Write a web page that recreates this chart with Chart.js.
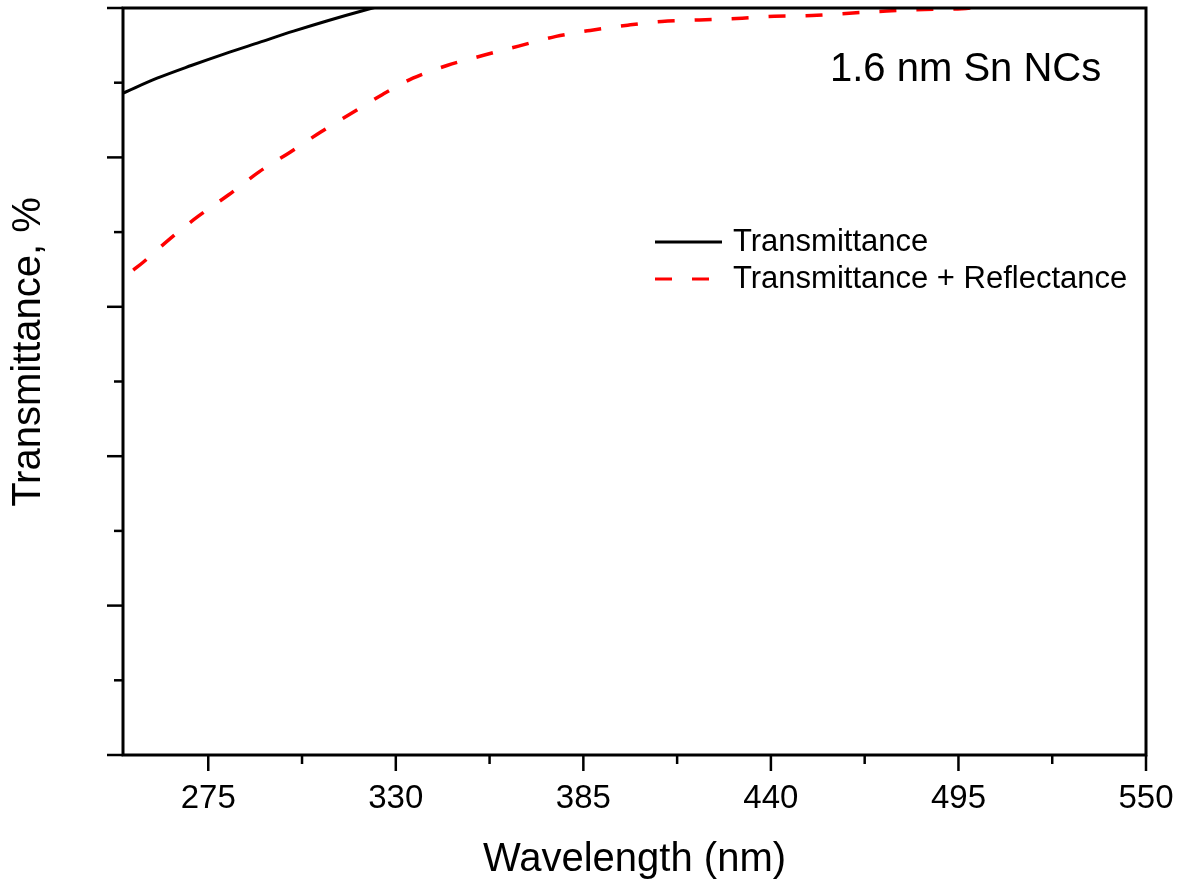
<!DOCTYPE html>
<html>
<head>
<meta charset="utf-8">
<script src="https://cdn.jsdelivr.net/npm/chart.js@4.4.1/dist/chart.umd.min.js"></script>
<style>
  html, body { margin: 0; padding: 0; background: #fff; }
  #wrap { width: 1181px; height: 884px; }
</style>
</head>
<body>
<div id="wrap"><canvas id="chart" width="1181" height="884"></canvas></div>
<script>
// wavelength (nm) and transmittance (%)
const transX = [250, 260, 270, 280, 290, 300, 310, 320, 330, 340];
const transY = [88.6, 90.6, 92.3, 93.9, 95.4, 96.9, 98.3, 99.6, 100.8, 101.9];

const trX = [253, 256, 264, 272, 281, 290, 299, 308, 317, 326, 335, 345, 356, 366, 377, 387, 398, 408, 419, 430, 441, 452, 463, 474, 485, 496, 505, 520];
const trY = [64.9, 66.0, 69.2, 72.1, 75.0, 78.1, 80.7, 83.4, 85.9, 88.4, 90.6, 92.3, 93.7, 94.9, 96.2, 97.0, 97.7, 98.2, 98.4, 98.6, 98.9, 99.0, 99.3, 99.6, 99.8, 99.9, 100.3, 100.8];

const xTicks = [275, 302.5, 330, 357.5, 385, 412.5, 440, 467.5, 495, 522.5, 550];
const xMajor = [275, 330, 385, 440, 495, 550];
const yTicks = [0, 10, 20, 30, 40, 50, 60, 70, 80, 90, 100];
const yMajor = [0, 20, 40, 60, 80, 100];

const seriesNames = ['Transmittance', 'Transmittance + Reflectance'];
const note = '1.6 nm Sn NCs';
const xTitle = 'Wavelength (nm)';
const yTitle = 'Transmittance, %';

const FONT = '"Liberation Sans", Arial, sans-serif';

function toPoints(xs, ys) {
  return xs.map((x, i) => ({ x: x, y: ys[i] }));
}

// frame, tick marks, legend and labels
const decorations = {
  id: 'decorations',
  afterDraw(chart) {
    const ctx = chart.ctx;
    const a = chart.chartArea;
    const xs = chart.scales.x;
    const ys = chart.scales.y;
    ctx.save();
    ctx.strokeStyle = '#000';
    ctx.lineWidth = 3;
    ctx.strokeRect(a.left, a.top, a.right - a.left, a.bottom - a.top);

    ctx.lineWidth = 2.5;
    xTicks.forEach(v => {
      const px = xs.getPixelForValue(v);
      const len = xMajor.includes(v) ? 16 : 9;
      ctx.beginPath();
      ctx.moveTo(px, a.bottom);
      ctx.lineTo(px, a.bottom + len);
      ctx.stroke();
    });
    yTicks.forEach(v => {
      const py = ys.getPixelForValue(v);
      const len = yMajor.includes(v) ? 16 : 9;
      ctx.beginPath();
      ctx.moveTo(a.left, py);
      ctx.lineTo(a.left - len, py);
      ctx.stroke();
    });

    // y title
    ctx.fillStyle = '#000';
    ctx.font = '40px ' + FONT;
    ctx.textAlign = 'center';
    ctx.textBaseline = 'middle';
    ctx.translate(29, 352);
    ctx.rotate(-Math.PI / 2);
    ctx.fillText(yTitle, 0, 0);
    ctx.setTransform(1, 0, 0, 1, 0, 0);

    // note
    ctx.textAlign = 'left';
    ctx.font = '40px ' + FONT;
    ctx.fillText(note, a.left + 707, a.top + 62);

    // legend
    const lx = a.left + 532;
    const ly1 = a.top + 234;
    const ly2 = a.top + 271;
    ctx.lineWidth = 3;
    ctx.strokeStyle = '#000';
    ctx.beginPath();
    ctx.moveTo(lx, ly1);
    ctx.lineTo(lx + 67, ly1);
    ctx.stroke();
    ctx.strokeStyle = '#ff0000';
    ctx.setLineDash([17, 20]);
    ctx.beginPath();
    ctx.moveTo(lx, ly2);
    ctx.lineTo(lx + 67, ly2);
    ctx.stroke();
    ctx.setLineDash([]);
    ctx.font = '31px ' + FONT;
    ctx.fillText(seriesNames[0], lx + 78, ly1);
    ctx.fillText(seriesNames[1], lx + 78, ly2);
    ctx.restore();
  }
};

new Chart(document.getElementById('chart'), {
  type: 'line',
  data: {
    datasets: [
      {
        label: seriesNames[0],
        data: toPoints(transX, transY),
        borderColor: '#000',
        borderWidth: 3,
        pointRadius: 0,
        cubicInterpolationMode: 'monotone',
        fill: false
      },
      {
        label: seriesNames[1],
        data: toPoints(trX, trY),
        borderColor: '#ff0000',
        borderWidth: 3.5,
        borderDash: [17, 20],
        pointRadius: 0,
        cubicInterpolationMode: 'monotone',
        fill: false
      }
    ]
  },
  options: {
    responsive: false,
    animation: false,
    events: [],
    layout: { padding: { top: 8, right: 35, left: 0, bottom: 0 } },
    plugins: { legend: { display: false }, tooltip: { enabled: false } },
    scales: {
      x: {
        type: 'linear',
        min: 250,
        max: 550,
        afterBuildTicks(scale) {
          scale.ticks = xTicks.map(v => ({ value: v }));
        },
        afterFit(scale) {
          scale.height = 129;
          scale.paddingLeft = 0;
          scale.paddingRight = 0;
        },
        grid: { display: false, drawTicks: false },
        border: { display: false },
        ticks: {
          autoSkip: false,
          maxRotation: 0,
          padding: 24,
          color: '#000',
          font: { family: FONT, size: 33 },
          callback: v => xMajor.includes(v) ? String(v) : ''
        },
        title: {
          display: true,
          text: xTitle,
          color: '#000',
          font: { family: FONT, size: 40 },
          padding: { top: 12, bottom: 0 }
        }
      },
      y: {
        type: 'linear',
        min: 0,
        max: 100,
        afterBuildTicks(scale) {
          scale.ticks = yTicks.map(v => ({ value: v }));
        },
        afterFit(scale) { scale.width = 123; },
        grid: { display: false, drawTicks: false },
        border: { display: false },
        ticks: { display: false }
      }
    }
  },
  plugins: [decorations]
});
</script>
</body>
</html>
